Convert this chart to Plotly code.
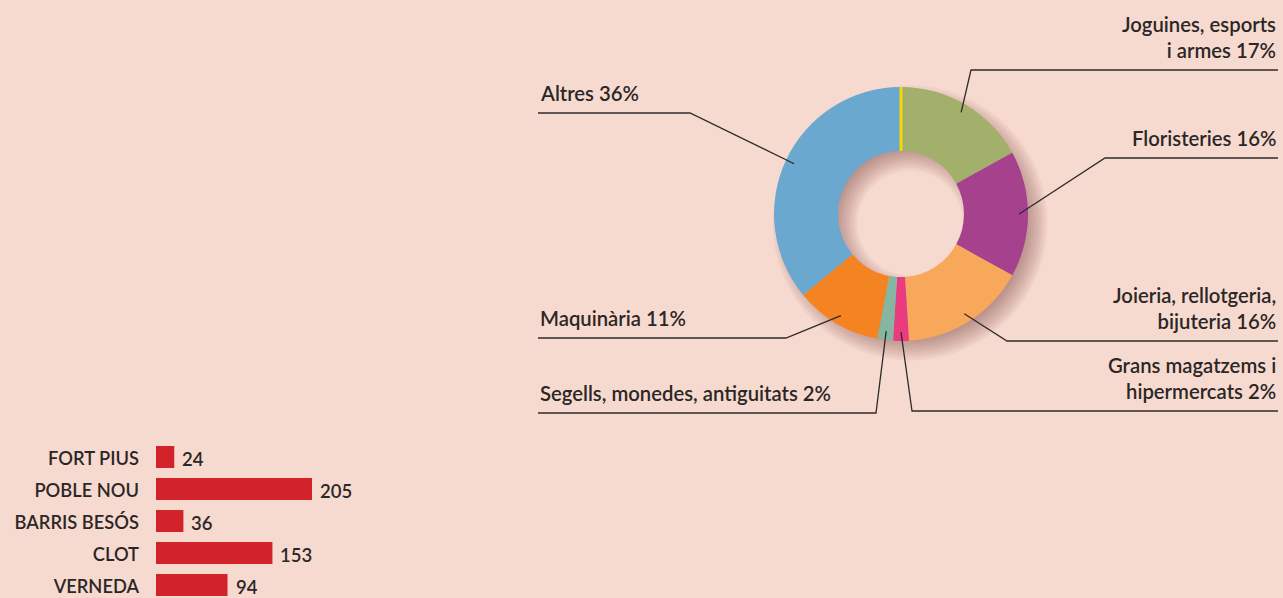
import math
import plotly.graph_objects as go

W, H = 1283, 598
BG = "#f7dacf"
TXT = "#2b2727"
FONT = "Lato"

# ---- data ----
sectors = ["Joguines, esports<br>i armes", "Floristeries", "Joieria, rellotgeria,<br>bijuteria",
           "Grans magatzems i<br>hipermercats", "Segells, monedes, antiguitats", "Maquinària", "Altres"]
shares = [17, 16, 16, 2, 2, 11, 36]
sector_colors = ["#a2b06b", "#a5418d", "#f8a85a", "#ea3a80", "#86b6a2", "#f48421", "#6aa8d0"]

districts = ["FORT PIUS", "POBLE NOU", "BARRIS BESÓS", "CLOT", "VERNEDA"]
counts = [24, 205, 36, 153, 94]
BAR_COLOR = "#d2232a"

# ---- layout geometry (pixels) ----
CX, CY, R_OUT, R_IN = 901, 214, 127, 63
# label layout: side, anchor x, underline y, elbow x
label_layout = [
    ("right", 1278, 70, 971),
    ("right", 1278, 158, 1105),
    ("right", 1278, 341, 1007),
    ("right", 1278, 411, 912),
    ("left", 538, 413, 876),
    ("left", 538, 338, 786),
    ("left", 538, 113, 690),
]

def px_x(px):
    return px / W

def px_y(py):
    return 1 - py / H

def domain_for(cx, cy, r):
    return dict(x=[px_x(cx - r), px_x(cx + r)], y=[px_y(cy + r), px_y(cy - r)])

fig = go.Figure()

# soft drop shadow (layered rings)
SH_DX, SH_DY = 9, 9
for k in range(-4, 5):
    ro = R_OUT + k * 2.6
    ri = R_IN - k * 2.6
    fig.add_trace(go.Pie(
        values=[1], labels=["s"], hole=ri / ro, sort=False,
        domain=domain_for(CX + SH_DX, CY + SH_DY, ro),
        marker=dict(colors=["rgba(95,45,35,0.05)"], line=dict(width=0)),
        textinfo="none", hoverinfo="skip", showlegend=False,
    ))

fig.add_trace(go.Pie(
    labels=sectors, values=shares, hole=R_IN / R_OUT, sort=False,
    direction="clockwise", rotation=0,
    domain=domain_for(CX, CY, R_OUT),
    marker=dict(colors=sector_colors, line=dict(width=0)),
    textinfo="none", hoverinfo="label+percent", showlegend=False,
))

shapes = []
annotations = []

# yellow start marker at 12 o'clock
shapes.append(dict(type="line", xref="paper", yref="paper",
                   x0=px_x(CX), x1=px_x(CX), y0=px_y(CY - R_IN), y1=px_y(CY - R_OUT),
                   line=dict(color="#f7d900", width=3)))

# leader lines and labels
total = sum(shares)
cum = 0
for name, val, (side, ax, uy, ex) in zip(sectors, shares, label_layout):
    mid = (cum + val / 2) / total * 2 * math.pi
    cum += val
    rr = 0.93 * R_OUT
    sx = CX + rr * math.sin(mid)
    sy = CY - rr * math.cos(mid)
    path = f"M {px_x(ax)},{px_y(uy)} L {px_x(ex)},{px_y(uy)} L {px_x(sx)},{px_y(sy)}"
    shapes.append(dict(type="path", xref="paper", yref="paper", path=path,
                       line=dict(color="#2e2a2a", width=1.3)))
    annotations.append(dict(
        xref="paper", yref="paper", x=px_x(ax), y=px_y(uy - 6),
        xanchor="right" if side == "right" else "left", yanchor="bottom",
        align="right" if side == "right" else "left",
        text=f"{name} {val}%", showarrow=False,
        font=dict(family=FONT, size=20.3, color=TXT, weight=600),
    ))

# ---- bar chart ----
PX_PER_UNIT = 156 / 205
X_MAX = 300
fig.add_trace(go.Bar(
    x=counts, y=districts, orientation="h", width=0.6875,
    marker=dict(color=BAR_COLOR, line=dict(width=0)),
    xaxis="x", yaxis="y", showlegend=False, hoverinfo="x+y",
))
for d, c in zip(districts, counts):
    annotations.append(dict(
        xref="x", yref="y", x=c, y=d, xanchor="left", yanchor="middle",
        xshift=6, yshift=-2, text=str(c), showarrow=False,
        font=dict(family=FONT, size=18.5, color=TXT, weight=600),
    ))

y_top = 441
y_span = (H - y_top) / 32  # categories at 32 px pitch
fig.update_layout(
    width=W, height=H, margin=dict(l=0, r=0, t=0, b=0),
    paper_bgcolor=BG, plot_bgcolor=BG,
    shapes=shapes, annotations=annotations,
    xaxis=dict(domain=[px_x(156), px_x(156 + X_MAX * PX_PER_UNIT)], range=[0, X_MAX],
               visible=False, fixedrange=True),
    yaxis=dict(domain=[0, px_y(y_top)], range=[-0.5 + y_span, -0.5],
               categoryorder="array", categoryarray=districts,
               showgrid=False, zeroline=False, showline=False, ticks="",
               ticklabelstandoff=16, ticklabelshift=-2,
               tickfont=dict(family=FONT, size=18.3, color=TXT, weight=600),
               fixedrange=True),
    showlegend=False,
)

fig.write_html("out.html", config={"displayModeBar": False},
               post_script="document.body.style.margin='0';document.body.style.overflow='hidden';")
